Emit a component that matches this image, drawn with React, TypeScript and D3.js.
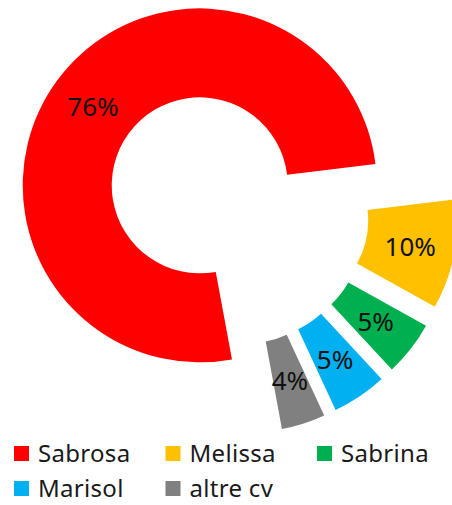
import { useEffect, useRef } from "react";
import * as d3 from "d3";

const names = ["Sabrosa", "Melissa", "Sabrina", "Marisol", "altre cv"];
const values = [76, 10, 5, 5, 4];
const colors = ["#FF0000", "#FFC000", "#00B050", "#00B0F0", "#808080"];

export default function App() {
  const svgRef = useRef<SVGSVGElement>(null);

  useEffect(() => {
    if (!svgRef.current) return;
    const width = 452;
    const height = 505;
    const svg = d3.select(svgRef.current).attr("width", width).attr("height", height);
    svg.selectAll("*").remove();

    const cx = 236;
    const cy = 212;
    const outer = 177;
    const inner = 88;
    const explode = 45;

    const start = (169.5 * Math.PI) / 180;
    const pie = d3.pie<number>().sort(null).value((d) => d)
      .startAngle(start).endAngle(start + 2 * Math.PI);
    const arcs = pie(values);
    const arc = d3.arc<d3.PieArcDatum<number>>().innerRadius(inner).outerRadius(outer);

    const g = svg.append("g").attr("transform", `translate(${cx},${cy})`);

    const slices = g.selectAll("g.slice")
      .data(arcs)
      .enter()
      .append("g")
      .attr("class", "slice")
      .attr("transform", (d) => {
        const a = (d.startAngle + d.endAngle) / 2;
        return `translate(${explode * Math.sin(a)},${-explode * Math.cos(a)})`;
      });

    slices.append("path")
      .attr("d", arc)
      .attr("fill", (_, i) => colors[i]);

    slices.append("text")
      .attr("transform", (d) => `translate(${arc.centroid(d)})`)
      .attr("text-anchor", "middle")
      .attr("dy", "0.36em")
      .attr("font-family", "'Noto Sans', sans-serif")
      .attr("font-size", 26)
      .attr("fill", "#111")
      .text((d) => `${d.data}%`);

    // legend
    const items = svg.append("g").selectAll("g")
      .data(names)
      .enter()
      .append("g")
      .attr("transform", (_, i) => `translate(${14 + (i % 3) * 151.5},${446 + Math.floor(i / 3) * 35})`);

    items.append("rect")
      .attr("width", 15)
      .attr("height", 15)
      .attr("fill", (_, i) => colors[i]);

    items.append("text")
      .attr("x", 24)
      .attr("y", 15.5)
      .attr("font-family", "'Noto Sans', sans-serif")
      .attr("font-size", 24)
      .attr("letter-spacing", 0.3)
      .attr("fill", "#1a1a1a")
      .text((d) => d);
  }, []);

  return (
    <div style={{ position: "absolute", left: 0, top: 0, width: 452, height: 505, background: "#fff" }}>
      <svg ref={svgRef} style={{ display: "block" }} />
    </div>
  );
}
